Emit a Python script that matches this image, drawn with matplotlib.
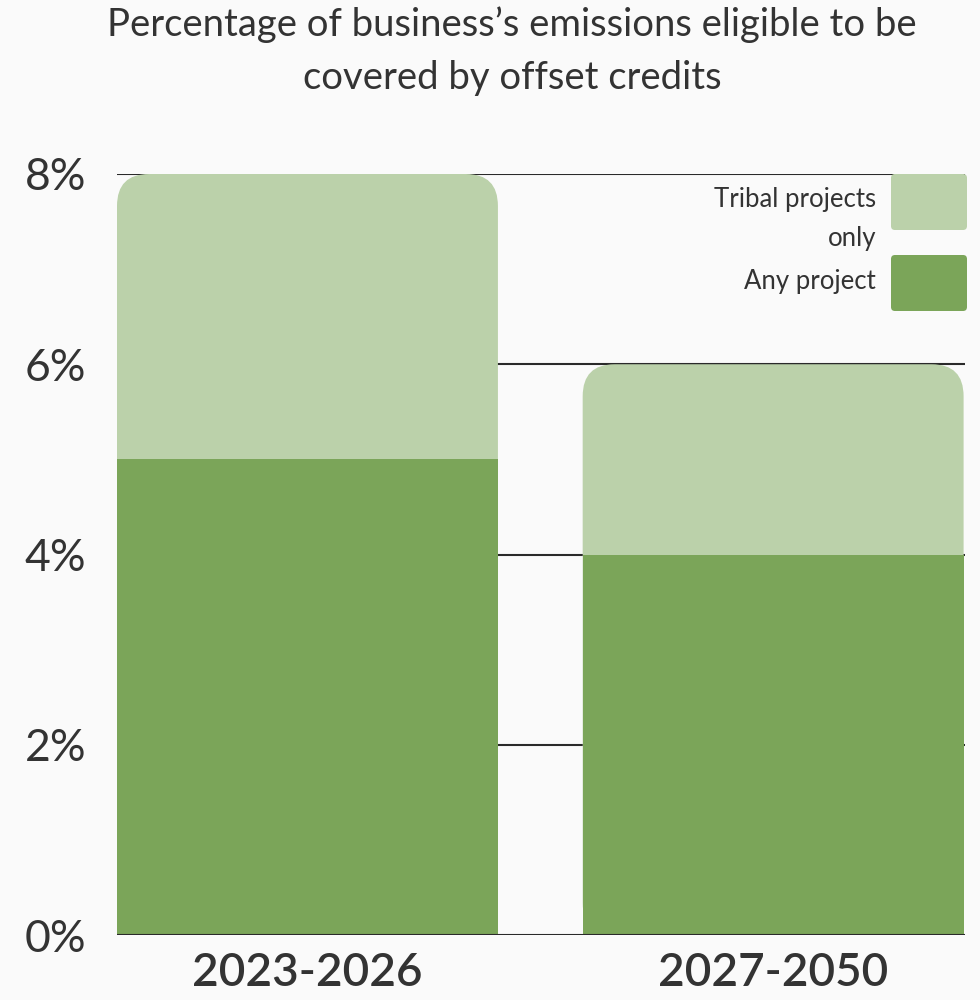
import matplotlib
matplotlib.use("Agg")
import matplotlib.pyplot as plt
from matplotlib.patches import FancyBboxPatch
import numpy as np

categories = ["2023-2026", "2027-2050"]
any_project = [5, 4]
tribal_only = [3, 2]
yticks = [0, 2, 4, 6, 8]
ytick_labels = ["0%", "2%", "4%", "6%", "8%"]
title = "Percentage of business\u2019s emissions eligible to be\ncovered by offset credits"
legend_labels = ["Tribal projects\nonly", "Any project"]

LIGHT = "#bbd1aa"
DARK = "#7ba559"
BG = "#fafafa"
TXT = "#333333"

plt.rcParams['font.family'] = ['Lato', 'DejaVu Sans']

W, H = 980, 1000
fig = plt.figure(figsize=(W / 100, H / 100), dpi=100, facecolor=BG)
ax_l, ax_r, ax_b, ax_t = 117, 965, 935, 174
ax = fig.add_axes([ax_l / W, 1 - ax_b / H, (ax_r - ax_l) / W, (ax_b - ax_t) / H])
ax.set_facecolor(BG)

x = np.arange(len(categories))
bw = 0.818
ax.set_xlim(-0.409, 1.412)
ax.set_ylim(0, 8)

# gridlines behind bars
for yt in yticks[1:]:
    ax.axhline(yt, color="#2a2a2a", lw=1.5, zorder=0)

totals = [a + t for a, t in zip(any_project, tribal_only)]

px_x = (ax_r - ax_l) / (1.412 + 0.409)
px_y = (ax_b - ax_t) / 8.0
radius_px = 32
r_x = radius_px / px_x
aspect = (1 / px_y) / (1 / px_x)

for xi, tot in zip(x, totals):
    p = FancyBboxPatch((xi - bw / 2, 0), bw, tot,
                       boxstyle=f"round,pad=0,rounding_size={r_x}",
                       mutation_aspect=aspect, facecolor=LIGHT, edgecolor="none", zorder=2)
    ax.add_patch(p)

ax.bar(x, any_project, width=bw, color=DARK, zorder=3, linewidth=0)

ax.axhline(0, color="#2a2a2a", lw=1.5, zorder=4)

for s in ax.spines.values():
    s.set_visible(False)
ax.set_yticks(yticks)
ax.set_yticklabels(ytick_labels, fontsize=32, color=TXT)
ax.set_xticks(x)
ax.set_xticklabels(categories, fontsize=33, color=TXT, fontweight="semibold")
ax.tick_params(axis="y", length=0, pad=22)
ax.tick_params(axis="x", length=0, pad=12)

fig.text(512 / W, 1 - 51 / H, title, ha="center", va="center", fontsize=27.5,
         color=TXT, linespacing=1.6)

# legend
sw, sh = 76, 56
for i, col in enumerate([LIGHT, DARK]):
    top = 174 + i * 81
    sq = FancyBboxPatch((891 / W, 1 - (top + sh) / H), sw / W, sh / H,
                        boxstyle="round,pad=0,rounding_size=0.004",
                        transform=fig.transFigure, facecolor=col, edgecolor="none")
    fig.patches.append(sq)
fig.text(876 / W, 1 - 219 / H, legend_labels[0], ha="right", va="center",
         fontsize=18.5, color=TXT, linespacing=1.7)
fig.text(876 / W, 1 - 282 / H, legend_labels[1], ha="right", va="center",
         fontsize=18.5, color=TXT)

fig.savefig("out.png", dpi=100, facecolor=BG)
